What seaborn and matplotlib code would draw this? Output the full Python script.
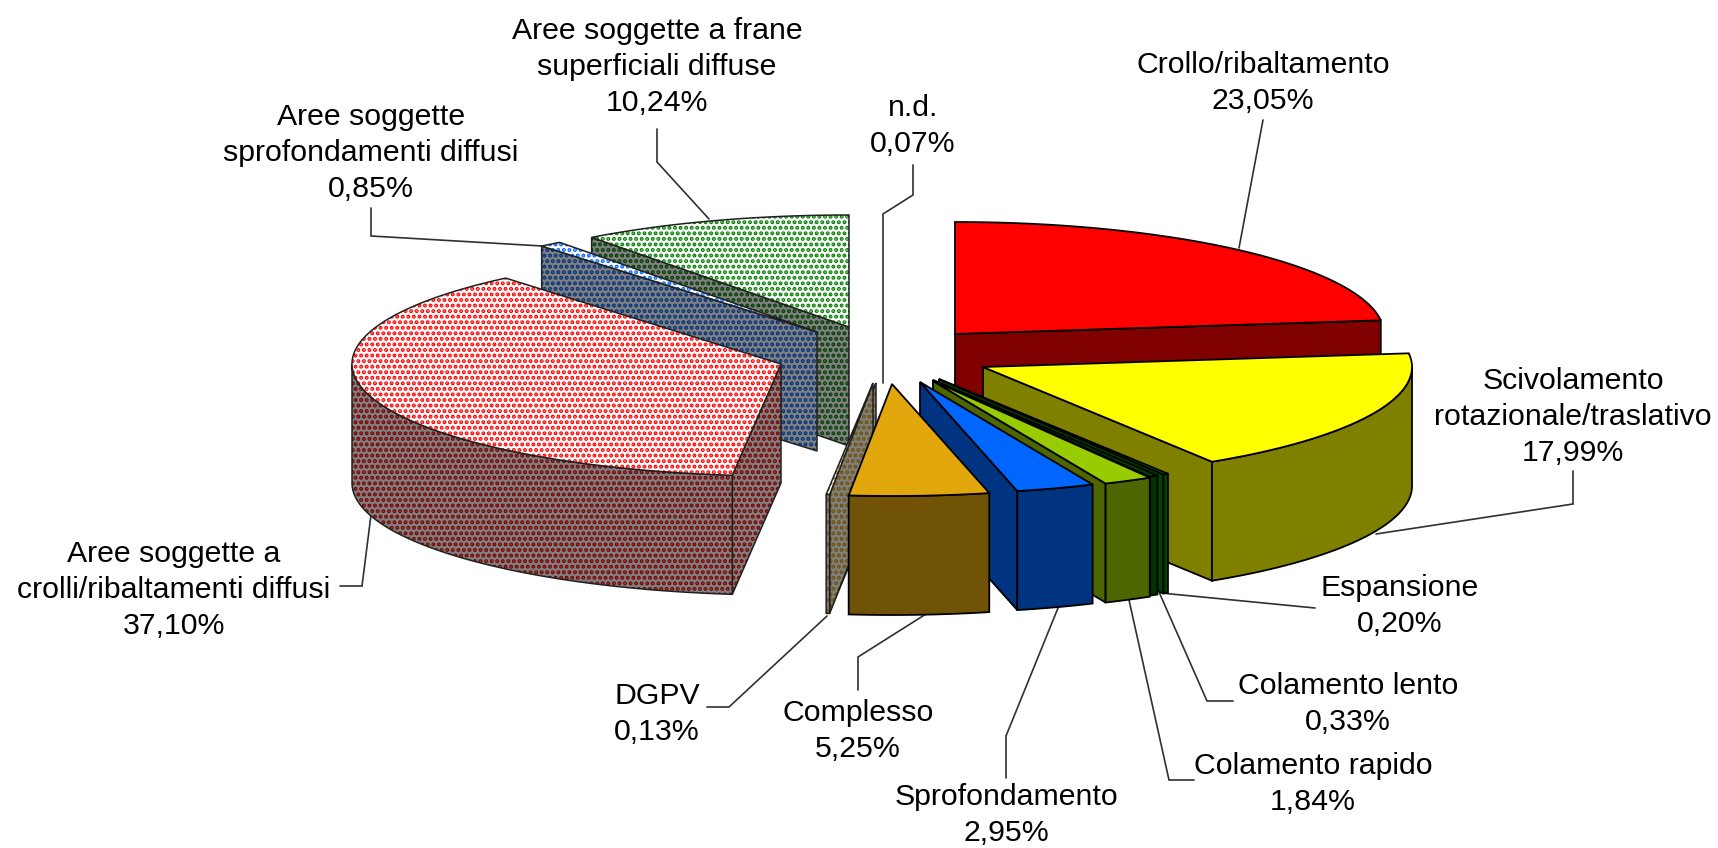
import numpy as np
import seaborn as sns
import matplotlib.pyplot as plt
from matplotlib.patches import Polygon

names = ["Crollo/ribaltamento", "Scivolamento\nrotazionale/traslativo", "Espansione",
         "Colamento lento", "Colamento rapido", "Sprofondamento", "Complesso", "DGPV", "n.d.",
         "Aree soggette a\ncrolli/ribaltamenti diffusi", "Aree soggette\nsprofondamenti diffusi",
         "Aree soggette a frane\nsuperficiali diffuse"]
percent = [23.05, 17.99, 0.20, 0.33, 1.84, 2.95, 5.25, 0.13, 0.07, 37.10, 0.85, 10.24]
top_colors = ["#FF0000", "#FFFF00", "#008000", "#004000", "#99CC00", "#0066FF", "#E1A70C",
              "#A08020", "#A08020", "#FF0000", "#0066FF", "#008000"]
side_colors = ["#800000", "#808000", "#004000", "#003300", "#4D6600", "#003380", "#705306",
               "#705306", "#705306", "#800000", "#003380", "#004000"]
dotted = [False, False, False, False, False, False, False, True, True, True, True, True]

# layout, in pixels of the output picture
RX, RY, DEPTH = 429, 112, 119
apex = [(955, 334), (983, 367), (939, 379), (933, 380), (933, 381), (920, 382), (892, 384),
        (873, 383), (876, 383), (781, 364), (817, 332), (849, 327)]
draw_order = [11, 10, 9, 0, 1, 2, 3, 4, 5, 8, 7, 6]
text_pos = [(1263, 83), (1573, 417), (1400, 606), (1348, 704), (1313, 784), (1006, 815),
            (858, 731), (657, 714), (174, 590), (371, 153), (657, 67), (913, 126)]
text_idx = [0, 1, 2, 3, 4, 5, 6, 7, 9, 10, 11, 8]
leaders = [
    [(1263, 120), (1239, 248)],
    [(1573, 471), (1573, 504), (1376, 534)],
    [(1161, 593), (1315, 608)],
    [(1159, 592), (1207, 701), (1233, 701)],
    [(1129, 600), (1169, 780), (1194, 780)],
    [(1058, 608), (1006, 736), (1006, 778)],
    [(926, 614), (858, 657), (858, 690)],
    [(827, 616), (729, 707), (707, 707)],
    [(913, 165), (913, 195), (883, 214), (883, 383)],
    [(657, 129), (657, 162), (709, 219)],
    [(371, 208), (371, 236), (542, 246)],
    [(340, 586), (362, 586), (371, 515)],
]

sns.set_theme(style="white")
plt.rcParams['font.family'] = ['Liberation Sans', 'DejaVu Sans']
plt.rcParams['hatch.linewidth'] = 2.0


def rim(cx, cy, a0, a1, dz=0):
    t = np.radians(np.linspace(a0, a1, max(3, int(abs(a1 - a0) * 2))))
    return np.column_stack([cx + RX * np.sin(t), cy - RY * np.cos(t) + dz])


def face(ax, pts, fill, dots, hatch_col):
    if dots:
        ax.add_patch(Polygon(pts, facecolor=fill, edgecolor=hatch_col, hatch='...', lw=0))
        ax.add_patch(Polygon(pts, fill=False, edgecolor='#202020', lw=1.1))
    else:
        ax.add_patch(Polygon(pts, facecolor=fill, edgecolor='black', lw=1.3))


def draw_slice(ax, i, a0, a1):
    cx, cy = apex[i]
    top, side, dots = top_colors[i], side_colors[i], dotted[i]
    side_fill = '#808080' if dots else side
    for a, show in [(a0, np.sin(np.radians(a0)) < -1e-6), (a1, np.sin(np.radians(a1)) > 1e-6)]:
        if show:
            p = rim(cx, cy, a, a)[0]
            pts = [(cx, cy), p, (p[0], p[1] + DEPTH), (cx, cy + DEPTH)]
            face(ax, pts, side_fill, dots, side)
    lo, hi = max(a0, 90), min(a1, 270)
    if hi > lo:
        front = np.vstack([rim(cx, cy, lo, hi), rim(cx, cy, hi, lo, DEPTH)])
        face(ax, front, side_fill, dots, side)
    pts = np.vstack([[(cx, cy)], rim(cx, cy, a0, a1)])
    face(ax, pts, 'white' if dots else top, dots, top)


fig, ax = plt.subplots(figsize=(17.18, 8.48), dpi=100)
fig.subplots_adjust(0, 0, 1, 1)
ax.set_xlim(0, 1718)
ax.set_ylim(848, 0)
ax.axis('off')

edges = np.concatenate([[0], np.cumsum(percent)]) * 3.6

for line in leaders:
    xs, ys = zip(*line)
    ax.plot(xs, ys, color='#303030', lw=1.2, zorder=1, solid_joinstyle='miter')

for i in draw_order:
    draw_slice(ax, i, edges[i], edges[i + 1])

for i, (x, y) in zip(text_idx, text_pos):
    value = f"{percent[i]:.2f}%".replace('.', ',')
    ax.text(x, y, names[i] + "\n" + value, ha='center', va='center', fontsize=21.8,
            color='black', linespacing=1.38, zorder=5)

fig.savefig("out.png", dpi=100, facecolor='white')
